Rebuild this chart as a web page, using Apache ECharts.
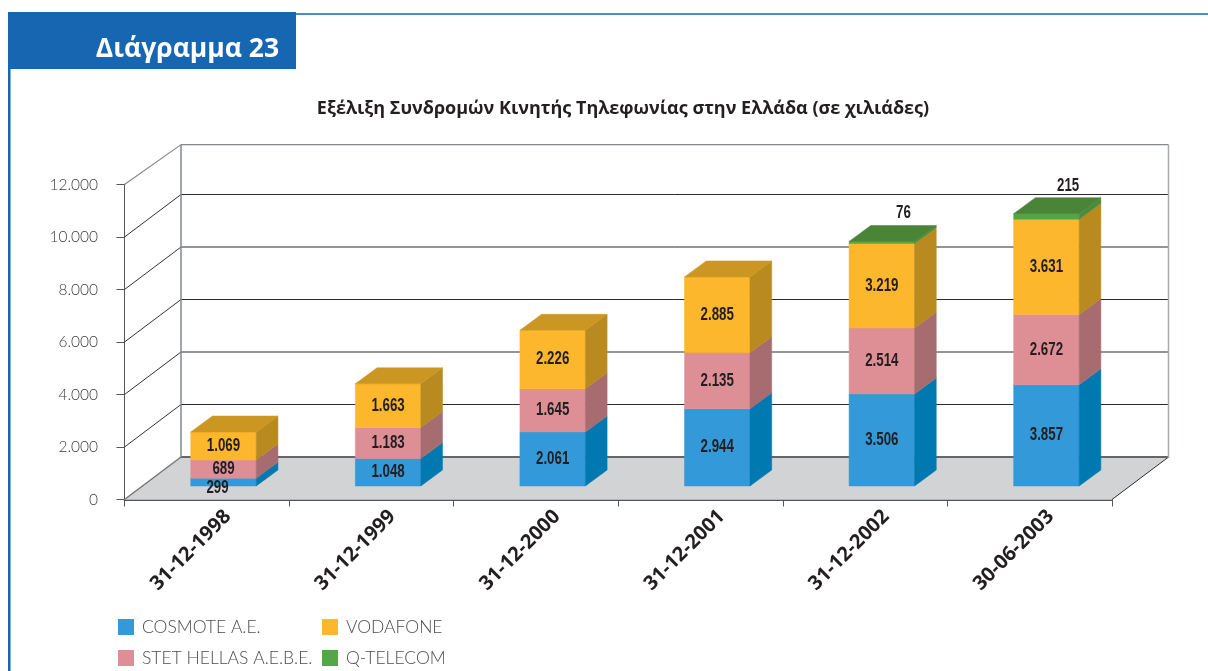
<!DOCTYPE html>
<html><head><meta charset="utf-8">
<style>html,body{margin:0;padding:0;background:#fff}#c{width:1208px;height:671px}</style>
<script src="https://cdn.jsdelivr.net/npm/echarts@6/dist/echarts.min.js"></script>
</head><body><div id="c"></div>
<script>
const categories = ['31-12-1998','31-12-1999','31-12-2000','31-12-2001','31-12-2002','30-06-2003'];
const cosmote = [299,1048,2061,2944,3506,3857];
const stet = [689,1183,1645,2135,2514,2672];
const vodafone = [1069,1663,2226,2885,3219,3631];
const qtelecom = [0,0,0,0,76,215];
const yTicks = [0,2000,4000,6000,8000,10000,12000];
const WALL_TOP = 11900;

const WALL = {dx:56.5, dy:42.5};
const BAR = {sx:16.7, sy:13.5, w:65.5, dx:21.7, dy:16};
const LABEL_FONT = '"Liberation Sans",sans-serif';
const TEXT_FONT = 'Lato,"Open Sans",sans-serif';
const GREEK_FONT = '"Open Sans","Noto Sans",sans-serif';
const fmt = v => { const s = String(v); return s.length > 3 ? s.slice(0, -3) + '.' + s.slice(-3) : s; };

const seriesDefs = [
  {name:'COSMOTE A.E.', values:cosmote, front:'#3399d8', side:'#0079b1', top:'#0079b1'},
  {name:'STET HELLAS A.E.B.E.', values:stet, front:'#de8f95', side:'#a66c70', top:'#a66c70'},
  {name:'VODAFONE', values:vodafone, front:'#fdb72d', side:'#b88a20', top:'#cc9623'},
  {name:'Q-TELECOM', values:qtelecom, front:'#52a846', side:'#4a8c3c', top:'#4a8437'}
];

function poly(points, fill) {
  return {type:'polygon', shape:{points}, style:{fill, stroke:fill, lineWidth:0.5}};
}
function ln(x1,y1,x2,y2,stroke,lineWidth) {
  return {type:'line', shape:{x1,y1,x2,y2}, style:{stroke, lineWidth}};
}

function renderFloor(params, api) {
  const cs = params.coordSys, y0 = api.coord([0,0])[1], x0 = cs.x, x1 = cs.x + cs.width;
  return {type:'group', children:[
    poly([[x0,y0],[x0+WALL.dx,y0-WALL.dy],[x1+WALL.dx,y0-WALL.dy],[x1,y0]], '#d1d3d4'),
    ln(x1,y0,x1+WALL.dx,y0-WALL.dy,'#333',1),
    ln(x0,y0,x0+WALL.dx,y0-WALL.dy,'#777',1.5)
  ]};
}

function renderWall(params, api) {
  const cs = params.coordSys, v = api.value(1), x0 = cs.x, x1 = cs.x + cs.width;
  const y = api.coord([0,v])[1], yb = y - WALL.dy;
  if (v === 0) return ln(x0+WALL.dx,yb,x1+WALL.dx,yb,'#666',2);
  if (v === 12000) {
    const yt = api.coord([0,WALL_TOP])[1] - WALL.dy, y0 = api.coord([0,0])[1] - WALL.dy;
    return {type:'group', children:[
      ln(x0,y,x0+WALL.dx,yt,'#85888c',1.2),
      ln(x0+WALL.dx,yt,x1+WALL.dx,yt,'#85888c',1.2),
      ln(x0+WALL.dx,yt,x0+WALL.dx,y0,'#85888c',1.5),
      ln(x1+WALL.dx,yt,x1+WALL.dx,y0,'#a8abae',1.5)
    ]};
  }
  return {type:'group', children:[
    ln(x0,y,x0+WALL.dx,yb,'#333',1),
    ln(x0+WALL.dx,yb,x1+WALL.dx,yb,'#2a2a2a',1)
  ]};
}

function makeBarRenderer(idx) {
  const def = seriesDefs[idx];
  return function (params, api) {
    const i = api.value(0), v = api.value(1);
    if (!v) return null;
    let base = 0;
    for (let k = 0; k < idx; k++) base += seriesDefs[k].values[i];
    let isTop = true;
    for (let k = idx + 1; k < seriesDefs.length; k++) if (seriesDefs[k].values[i]) isTop = false;
    const cx = api.coord([i,0])[0] + BAR.sx;
    const yb = api.coord([i,base])[1] - BAR.sy;
    const yt = api.coord([i,base+v])[1] - BAR.sy;
    const xl = cx - BAR.w/2, xr = cx + BAR.w/2;
    const children = [
      poly([[xl,yb],[xr,yb],[xr,yt],[xl,yt]], def.front),
      poly([[xr,yb],[xr+BAR.dx,yb-BAR.dy],[xr+BAR.dx,yt-BAR.dy],[xr,yt]], def.side)
    ];
    if (isTop) children.push(poly([[xl,yt],[xr,yt],[xr+BAR.dx,yt-BAR.dy],[xl+BAR.dx,yt-BAR.dy]], def.top));
    let tx = cx, ty = (yb+yt)/2;
    if (idx === 3) { tx = cx + BAR.dx; ty = yt - 28; }
    else if (v < 500) { tx = cx - 6; ty = yb + 2.5; }
    children.push({type:'text', x:tx, y:ty, scaleX:0.74, z2:10, style:{
      text:fmt(v), fill:'#231f20', font:'bold 18px '+LABEL_FONT, textAlign:'center', textVerticalAlign:'middle'
    }});
    return {type:'group', children};
  };
}

function renderCatLabel(params, api) {
  const i = api.value(0), p = api.coord([i,0]);
  return {type:'text', x:p[0]+21, y:p[1]+14, rotation:Math.PI/4, style:{
    text:categories[i], fill:'#231f20', font:'bold 20px "Open Sans",sans-serif', textAlign:'right', textVerticalAlign:'middle'
  }};
}

const series = [
  {type:'custom', name:'floor', silent:true, data:[[0,0]], renderItem:renderFloor, z:1, animation:false, clip:false},
  {type:'custom', name:'wall', silent:true, data:yTicks.map(t => [0,t]), renderItem:renderWall, z:2, animation:false, clip:false},
  {type:'custom', name:'labels', silent:true, data:categories.map((c,i) => [i,0]), renderItem:renderCatLabel, z:3, animation:false, clip:false}
].concat(seriesDefs.map((d,idx) => ({
  type:'custom', name:d.name, itemStyle:{color:d.front}, z:5+idx, animation:false, clip:false,
  data:d.values.map((v,i) => [i,v]), renderItem:makeBarRenderer(idx), encode:{x:0,y:1}
})));

const legendBase = {
  orient:'vertical', top:618, padding:0, itemWidth:16, itemHeight:16, itemGap:13, icon:'rect', selectedMode:false,
  textStyle:{fontFamily:TEXT_FONT, fontSize:17.5, fontWeight:300, color:'#4d4d4f', padding:[1,0,0,3]}
};

const chart = echarts.init(document.getElementById('c'), null, {renderer:'canvas'});
chart.setOption({
  animation:false,
  backgroundColor:'#fff',
  title:{text:'Εξέλιξη Συνδρομών Κινητής Τηλεφωνίας στην Ελλάδα (σε χιλιάδες)', left:618, top:95, textAlign:'center',
    textStyle:{fontFamily:GREEK_FONT, fontWeight:'bold', fontSize:18, color:'#231f20'}},
  legend:[
    Object.assign({}, legendBase, {left:118, data:[seriesDefs[0].name, seriesDefs[1].name]}),
    Object.assign({}, legendBase, {left:322, data:[seriesDefs[2].name, seriesDefs[3].name]})
  ],
  grid:{left:124.5, right:96, top:184.5, bottom:171.5},
  xAxis:{type:'category', data:categories, boundaryGap:true,
    axisLine:{show:true, lineStyle:{color:'#555', width:2}},
    axisTick:{show:true, alignWithLabel:false, length:7, lineStyle:{color:'#555', width:1}},
    axisLabel:{show:false}, splitLine:{show:false}},
  yAxis:{type:'value', min:0, max:12000, interval:2000,
    axisLine:{show:true, lineStyle:{color:'#555', width:1}},
    axisTick:{show:true, length:8, lineStyle:{color:'#555', width:1}},
    axisLabel:{margin:26.5, formatter:v => fmt(v), fontFamily:TEXT_FONT, fontWeight:300, fontSize:15.5, color:'#3c3c3e'},
    splitLine:{show:false}},
  graphic:[
    {type:'rect', shape:{x:8,y:12,width:2.5,height:659}, style:{fill:'#1766b2'}, silent:true},
    {type:'rect', shape:{x:296,y:13,width:912,height:2}, style:{fill:'#4a8cc8'}, silent:true},
    {type:'rect', shape:{x:8,y:12,width:288,height:57}, style:{fill:'#1766b2'}, silent:true},
    {type:'text', x:187.5, y:49, style:{text:'Διάγραμμα 23', fill:'#fff', font:'bold 26.5px '+GREEK_FONT, textAlign:'center', textVerticalAlign:'middle'}, silent:true}
  ],
  series
});
</script></body></html>
